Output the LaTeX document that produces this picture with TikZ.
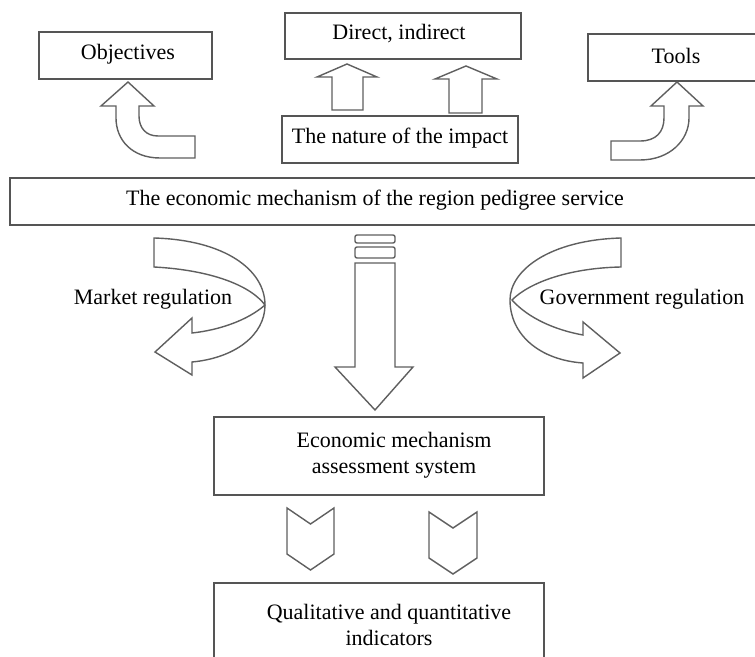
\documentclass[tikz,border=0pt]{standalone}
\usepackage{fontspec}
\setmainfont{Liberation Serif}
\usetikzlibrary{positioning}
\definecolor{box_gray}{RGB}{85,85,85}
\definecolor{arrow_gray}{RGB}{95,95,95}

\begin{document}
\begin{tikzpicture}[x=0.5pt,y=-0.5pt,line join=miter]
    \tikzstyle{box}=[draw=box_gray, line width=1pt, rectangle, inner sep=0pt, fill=none]
    \tikzstyle{txt}=[inner sep=0pt, align=center, text=black, font=\fontsize{11}{13}\selectfont]
    \tikzstyle{blk}=[draw=arrow_gray, line width=0.7pt, fill=white]

    \useasboundingbox (0,0) rectangle (755,657);
    \clip (0,0) rectangle (755,657);

    % boxes
    \node[box, minimum width=86.5pt, minimum height=23.5pt] (obj)    at (125.5,55.5) {};
    \node[box, minimum width=118pt,  minimum height=23pt]   (direct) at (403,36)     {};
    \node[box, minimum width=118pt,  minimum height=23.5pt] (nature) at (400,139.5)  {};
    \node[box, minimum width=96pt,   minimum height=23.5pt] (tools)  at (684,57.5)   {};
    \node[box, minimum width=385pt,  minimum height=23.5pt] (mech)   at (395,201.5)  {};
    \node[box, minimum width=165pt,  minimum height=39pt]   (assess) at (379,456)    {};
    \node[box, minimum width=165pt,  minimum height=50pt]   (indic)  at (379,633)    {};

    % texts
    \node[txt] (objT)    at (128,54)  {Objectives};
    \node[txt] (directT) at (399,34)  {Direct, indirect};
    \node[txt] (natureT) at (400,138) {The nature of the impact};
    \node[txt] (toolsT)  at (676,56)  {Tools};
    \node[txt] (mechT)   at (375,200) {The economic mechanism of the region pedigree service};
    \node[txt] (assessT) at (394,455) {Economic mechanism\\assessment system};
    \node[txt] (indicT)  at (389,625) {Qualitative and quantitative\\indicators};
    \node[txt] (marketT) at (153,299) {Market regulation};
    \node[txt] (govT)    at (642,299) {Government regulation};

    % bent arrows to objectives and tools
    \draw[blk] (195,158) -- (160,158) .. controls (132,158) and (116,140) .. (116,118)
        -- (116,106) -- (101,106) -- (128,82) -- (154,106) -- (139,106) -- (139,116)
        .. controls (139,128) and (146,136) .. (158,136) -- (195,136) -- cycle;
    \draw[blk] (611,160) -- (640,160) .. controls (670,160) and (689,140) .. (689,118)
        -- (689,106) -- (703,106) -- (677,82) -- (651,106) -- (664,106) -- (664,118)
        .. controls (664,132) and (656,141) .. (640,141) -- (611,141) -- cycle;

    % up arrows
    \draw[blk] (332,110) -- (332,77) -- (317,77) -- (347,64) -- (377,77) -- (363,77) -- (363,110) -- cycle;
    \draw[blk] (449,113) -- (449,79) -- (435,79) -- (466,66) -- (497,79) -- (482,79) -- (482,113) -- cycle;

    % twisted arrows
    \draw[blk] (192,333) .. controls (220,330) and (248,320) .. (265,305)
        .. controls (250,285) and (210,270) .. (154,267) -- (154,238)
        .. controls (225,240) and (265,270) .. (265,305)
        .. controls (265,335) and (235,358) .. (192,362) -- (192,375) -- (155,352) -- (192,318) -- cycle;
    \draw[blk] (583,335) .. controls (555,330) and (528,318) .. (512,300)
        .. controls (530,282) and (570,268) .. (621,267) -- (621,238)
        .. controls (550,240) and (510,270) .. (510,300)
        .. controls (510,335) and (540,360) .. (583,363) -- (583,378) -- (620,353) -- (583,322) -- cycle;

    % big down arrow
    \draw[blk, rounded corners=1pt] (355,235) rectangle (395,243);
    \draw[blk, rounded corners=1pt] (355,247) rectangle (395,258);
    \draw[blk] (355,263) -- (395,263) -- (395,367) -- (413,367) -- (375,410) -- (335,367) -- (355,367) -- cycle;

    % chevrons
    \draw[blk] (287,508) -- (310.5,524) -- (334,508) -- (334,554) -- (310.5,570) -- (287,554) -- cycle;
    \draw[blk] (429,512) -- (453,528) -- (477,512) -- (477,558) -- (453,574) -- (429,558) -- cycle;
\end{tikzpicture}
\end{document}
